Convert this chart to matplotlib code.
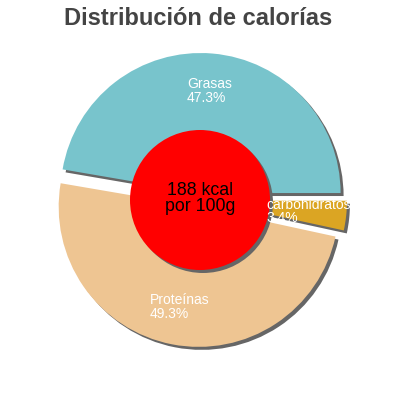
import numpy as np
import matplotlib
matplotlib.use("Agg")
import matplotlib.pyplot as plt
from matplotlib.patches import Circle

plt.rcParams['font.family'] = ['Liberation Sans', 'DejaVu Sans']

# data
labels = ['Grasas', 'Proteínas', 'carbohidratos']
values = [47.3, 49.3, 3.4]
colors = ['#78c4cc', '#eec592', '#dba523']
explode = [0.05, 0.05, 0.05]
title = 'Distribución de calorías'
center_text = '188 kcal\npor 100g'

fig = plt.figure(figsize=(4, 4), dpi=100)
ax = fig.add_axes([0, 0, 1, 1])

shadow_col = '#666666'
sh = 3 / 140  # shadow shift, ~3px in data units

# shadow pie first, then the real one on top
ax.pie(values, colors=[shadow_col] * len(values), startangle=0, counterclock=True,
       radius=1, center=(sh, -sh), explode=explode,
       wedgeprops=dict(linewidth=0, zorder=1))
wedges, _ = ax.pie(values, colors=colors, startangle=0, counterclock=True,
                   radius=1, explode=explode, wedgeprops=dict(linewidth=0, zorder=2))

# red centre disc with its shadow
ax.add_patch(Circle((sh, -sh), 0.5, facecolor=shadow_col, edgecolor='none', zorder=3))
ax.add_patch(Circle((0, 0), 0.5, facecolor='#ff0000', edgecolor='none', zorder=4))

# labels inside slices
for w, lab, v in zip(wedges, labels, values):
    tm = np.deg2rad((w.theta1 + w.theta2) / 2)
    cx, cy = w.center
    r = 0.73
    ax.text(cx + r * np.cos(tm), cy + r * np.sin(tm), f'{lab}\n{v}%',
            ha='center', va='center', multialignment='left',
            color='white', fontsize=10, linespacing=0.95, zorder=5)

ax.text(0, 0.01, center_text, ha='center', va='center', fontsize=12.8,
        color='black', linespacing=0.95, zorder=6)

ax.set_xlim(-200 / 140, 200 / 140)
ax.set_ylim(-200 / 140, 200 / 140)
ax.set_aspect('equal')
ax.axis('off')

fig.text(0.495, 1 - 25 / 400, title, ha='center', va='baseline',
         fontsize=17, fontweight='bold', color='#444444')

fig.savefig('out.png', dpi=100)
